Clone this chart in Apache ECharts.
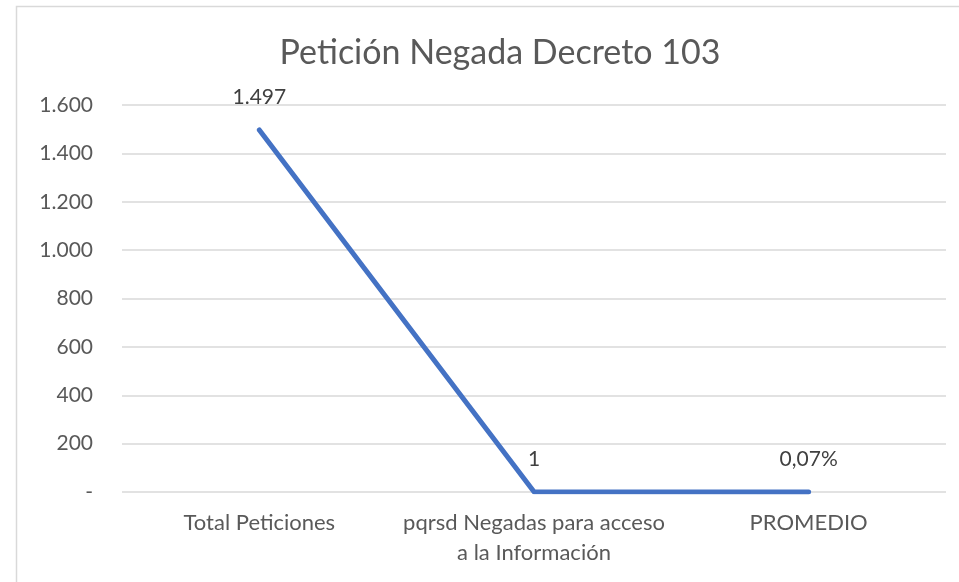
<!DOCTYPE html>
<html><head><meta charset="utf-8">
<script src="https://cdn.jsdelivr.net/npm/echarts@6/dist/echarts.min.js"></script>
<style>html,body{margin:0;padding:0;background:#fff}#c{width:959px;height:582px}</style>
</head><body><div id="c"></div>
<script>
const title = 'Petición Negada Decreto 103';
const categories = ['Total Peticiones', 'pqrsd Negadas para acceso\na la Información', 'PROMEDIO'];
const values = [1497, 1, 0.0007];
const valueKinds = ['number', 'number', 'percent'];
const yMin = 0, yMax = 1600, yStep = 200;

function fmtNum(v) {
  if (v === 0) return '-';
  return String(Math.round(v)).replace(/\B(?=(\d{3})+(?!\d))/g, '.');
}
function fmtPct(v) {
  return (v * 100).toFixed(2).replace('.', ',') + '%';
}
const FONT = 'Lato, "Open Sans", sans-serif';
const chart = echarts.init(document.getElementById('c'));
chart.setOption({
  animation: false,
  graphic: [{
    type: 'rect', shape: { x: 16.5, y: 6.5, width: 1000, height: 700 },
    style: { fill: 'none', stroke: '#d9d9d9', lineWidth: 1.5 }, z: -10
  }],
  title: {
    text: title, left: 495, top: 31, textAlign: 'center',
    textStyle: { fontFamily: FONT, fontSize: 34, fontWeight: 'normal', color: '#595959' }
  },
  grid: { left: 122, right: 13, top: 105, bottom: 90 },
  xAxis: {
    type: 'category', data: categories,
    axisLine: { show: false }, axisTick: { show: false },
    axisLabel: { fontFamily: FONT, fontSize: 22, color: '#595959', margin: 16, lineHeight: 30, interval: 0 }
  },
  yAxis: {
    type: 'value', min: yMin, max: yMax, interval: yStep,
    axisLine: { show: false }, axisTick: { show: false },
    splitLine: { lineStyle: { color: '#d9d9d9', width: 1.5 } },
    axisLabel: { fontFamily: FONT, fontSize: 21, color: '#595959', margin: 29, formatter: fmtNum }
  },
  series: [{
    type: 'line', data: values,
    symbol: 'circle', symbolSize: 4, showSymbol: true,
    itemStyle: { color: '#4472C4', borderWidth: 0 },
    lineStyle: { color: '#4472C4', width: 5, cap: 'round', join: 'round' },
    label: {
      show: true, position: 'top', distance: 20,
      fontFamily: FONT, fontSize: 21, color: '#404040',
      formatter: p => valueKinds[p.dataIndex] === 'percent' ? fmtPct(p.value) : fmtNum(p.value)
    }
  }]
});
</script></body></html>
